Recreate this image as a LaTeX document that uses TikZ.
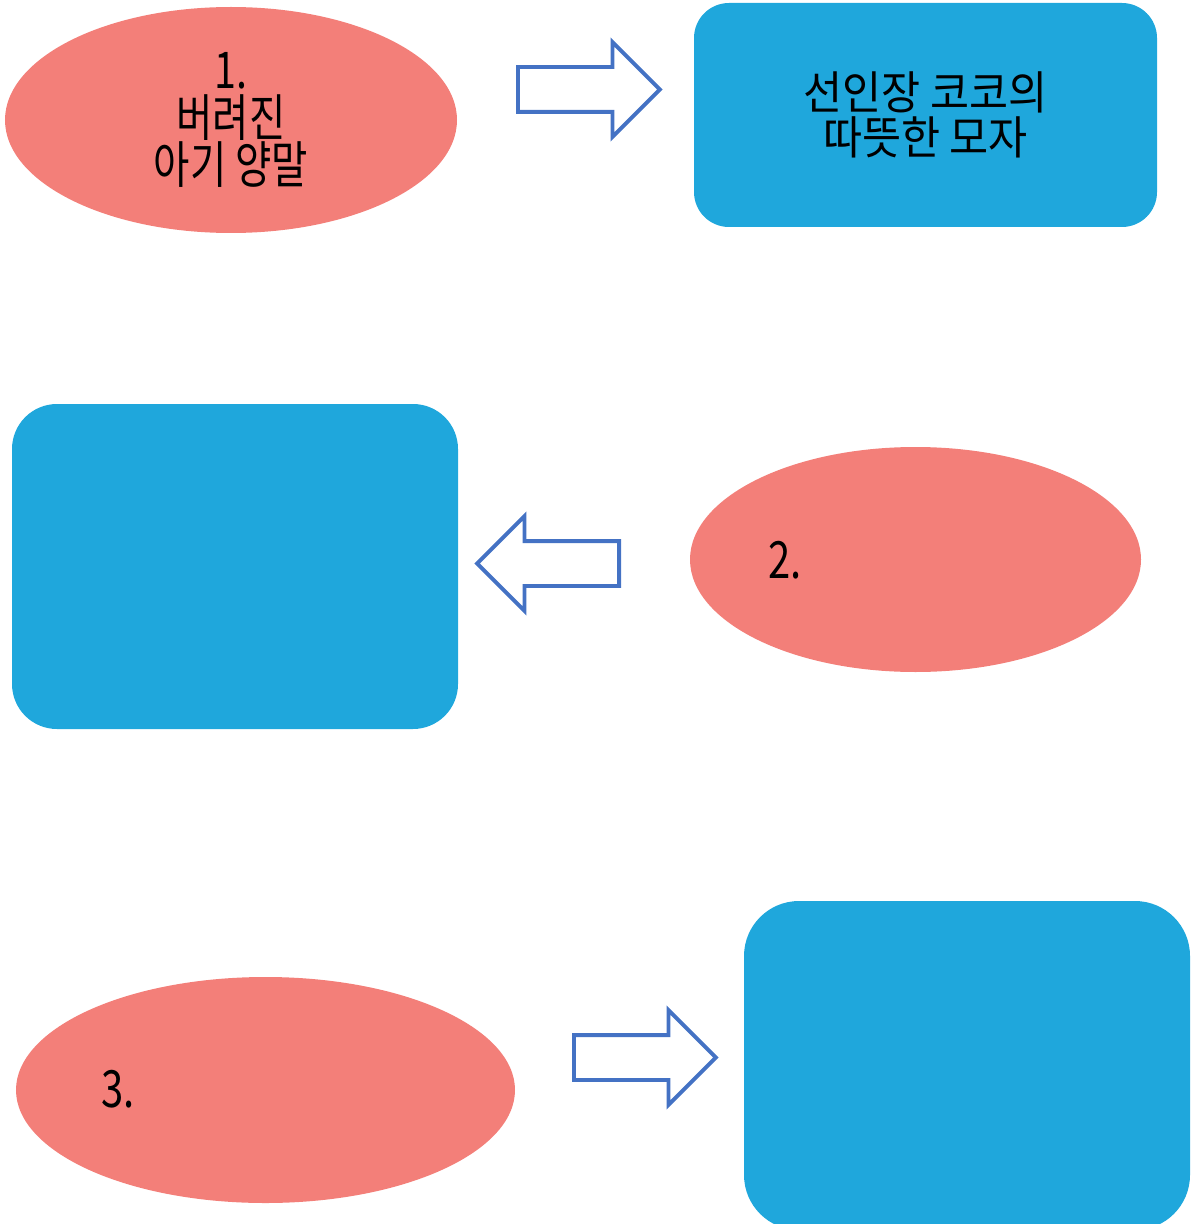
\documentclass[tikz,border=0pt]{standalone}
\usepackage{fontspec}
\usetikzlibrary{shapes.geometric,shapes.arrows}
\newfontfamily\krfont[FakeStretch=0.93]{Noto Sans CJK KR}
\newfontfamily\krnarrow[FakeStretch=0.78]{Noto Sans CJK KR}
\newcommand\krlines{\lineskiplimit=-50pt\relax}
\definecolor{salmon}{HTML}{F37F79}
\definecolor{sky}{HTML}{1FA7DC}
\definecolor{outline}{HTML}{4472C4}
\tikzset{
  oval/.style={ellipse,fill=salmon,inner sep=0pt,align=center,
    font=\krnarrow\fontsize{14.4}{13.4}\selectfont\krlines},
  panel/.style={rectangle,fill=sky,inner sep=0pt,align=center,
    font=\krfont\fontsize{13}{12.9}\selectfont\krlines},
  blockarrow/.style={single arrow,draw=outline,fill=white,line width=1.1pt,
    minimum height=1.42cm,inner xsep=0pt,inner ysep=0.205cm,
    single arrow head extend=0.25cm},
  numtext/.style={font=\krnarrow\fontsize{14.6}{12.8}\selectfont}
}
\begin{document}
\begin{tikzpicture}
\useasboundingbox (0,0) rectangle (11.95,-12.24);

% first row
\node[oval,minimum width=4.52cm,minimum height=2.26cm] (sock) at (2.31,-1.20)
 {1.\\버려진\\아기 양말};
\node[blockarrow,anchor=tail] (arrowa) at (5.16,-0.895) {};
\node[panel,minimum width=4.63cm,minimum height=2.24cm,rounded corners=0.35cm]
 (hat) at (9.255,-1.15) {선인장 코코의\\따뜻한 모자};

% second row
\node[panel,minimum width=4.46cm,minimum height=3.25cm,rounded corners=0.45cm]
 (boxb) at (2.35,-5.665) {};
\node[blockarrow,shape border rotate=180,anchor=tail] (arrowb) at (6.21,-5.635) {};
\node[oval,minimum width=4.51cm,minimum height=2.25cm] (ovalb) at (9.155,-5.595) {};
\node[numtext] (numb) at (7.85,-5.60) {2.};

% third row
\node[oval,minimum width=4.99cm,minimum height=2.26cm] (ovalc) at (2.655,-10.90) {};
\node[numtext] (numc) at (1.18,-10.89) {3.};
\node[blockarrow,anchor=tail] (arrowc) at (5.72,-10.575) {};
\node[panel,minimum width=4.46cm,minimum height=3.29cm,rounded corners=0.55cm]
 (boxc) at (9.67,-10.655) {};
\end{tikzpicture}
\end{document}
